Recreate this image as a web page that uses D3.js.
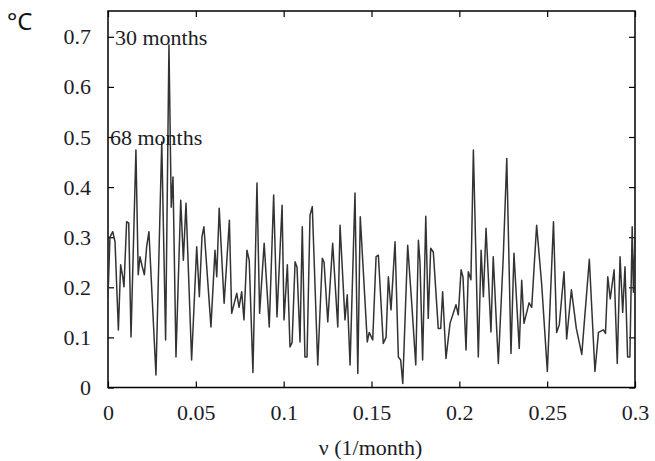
<!DOCTYPE html>
<html>
<head>
<meta charset="utf-8">
<script src="https://cdn.jsdelivr.net/npm/d3@7"></script>
<style>
    body { margin: 0; background: #fff; }
    svg { display: block; }
    .tick text { font-family: "Liberation Serif", "Times New Roman", serif; font-size: 22px; fill: #1c1c28; }
    .domain { display: none; }
    .tick line { stroke: #000; stroke-width: 1.2; }
</style>
</head>
<body>
<div id="chart"></div>
<script>
// frequency (1/month)
var nu = [
    0.0000, 0.0011, 0.0027, 0.0040, 0.0059, 0.0072, 0.0084, 0.0091, 0.0106, 0.0118,
    0.0131, 0.0159, 0.0172, 0.0182, 0.0195, 0.0207, 0.0220, 0.0233, 0.0273, 0.0306,
    0.0328, 0.0347, 0.0360, 0.0370, 0.0387, 0.0414, 0.0429, 0.0444, 0.0476, 0.0505,
    0.0520, 0.0535, 0.0546, 0.0586, 0.0609, 0.0619, 0.0633, 0.0661, 0.0691, 0.0704,
    0.0733, 0.0746, 0.0761, 0.0774, 0.0791, 0.0804, 0.0825, 0.0848, 0.0863, 0.0889,
    0.0918, 0.0943, 0.0962, 0.0991, 0.1002, 0.1021, 0.1036, 0.1048, 0.1065, 0.1076,
    0.1093, 0.1106, 0.1121, 0.1133, 0.1150, 0.1163, 0.1194, 0.1220, 0.1230, 0.1251,
    0.1279, 0.1308, 0.1321, 0.1349, 0.1362, 0.1378, 0.1406, 0.1422, 0.1436, 0.1476,
    0.1487, 0.1507, 0.1526, 0.1539, 0.1567, 0.1583, 0.1596, 0.1611, 0.1634, 0.1653,
    0.1666, 0.1678, 0.1706, 0.1729, 0.1752, 0.1767, 0.1776, 0.1791, 0.1809, 0.1823,
    0.1837, 0.1852, 0.1880, 0.1894, 0.1905, 0.1924, 0.1947, 0.1981, 0.1994, 0.2010,
    0.2021, 0.2038, 0.2051, 0.2066, 0.2080, 0.2108, 0.2124, 0.2137, 0.2152, 0.2180,
    0.2193, 0.2222, 0.2250, 0.2270, 0.2294, 0.2311, 0.2341, 0.2355, 0.2368, 0.2397,
    0.2412, 0.2440, 0.2469, 0.2501, 0.2536, 0.2554, 0.2569, 0.2596, 0.2611, 0.2638,
    0.2666, 0.2697, 0.2740, 0.2772, 0.2792, 0.2820, 0.2832, 0.2845, 0.2859, 0.2881,
    0.2899, 0.2915, 0.2930, 0.2943, 0.2958, 0.2971, 0.2984, 0.2991, 0.3000
];

// amplitude (°C)
var amp = [
    0.180, 0.300, 0.311, 0.291, 0.115, 0.245, 0.221, 0.201, 0.331, 0.328,
    0.101, 0.474, 0.225, 0.261, 0.241, 0.225, 0.281, 0.311, 0.025, 0.490,
    0.095, 0.684, 0.360, 0.420, 0.061, 0.374, 0.254, 0.368, 0.055, 0.281,
    0.181, 0.301, 0.321, 0.121, 0.274, 0.221, 0.358, 0.168, 0.334, 0.148,
    0.188, 0.160, 0.191, 0.135, 0.274, 0.254, 0.030, 0.408, 0.148, 0.288,
    0.121, 0.384, 0.141, 0.364, 0.135, 0.245, 0.081, 0.090, 0.251, 0.240,
    0.091, 0.321, 0.061, 0.061, 0.344, 0.361, 0.045, 0.258, 0.250, 0.131,
    0.288, 0.121, 0.324, 0.135, 0.185, 0.045, 0.388, 0.028, 0.341, 0.091,
    0.110, 0.095, 0.261, 0.264, 0.088, 0.100, 0.221, 0.155, 0.291, 0.061,
    0.055, 0.008, 0.284, 0.168, 0.045, 0.294, 0.250, 0.055, 0.342, 0.138,
    0.278, 0.270, 0.118, 0.118, 0.191, 0.058, 0.128, 0.165, 0.145, 0.235,
    0.220, 0.075, 0.231, 0.215, 0.474, 0.061, 0.274, 0.181, 0.318, 0.111,
    0.261, 0.048, 0.260, 0.457, 0.068, 0.268, 0.078, 0.214, 0.128, 0.169,
    0.160, 0.324, 0.205, 0.032, 0.331, 0.110, 0.125, 0.231, 0.097, 0.195,
    0.118, 0.066, 0.256, 0.032, 0.110, 0.115, 0.108, 0.221, 0.177, 0.235,
    0.048, 0.261, 0.150, 0.241, 0.061, 0.061, 0.321, 0.190, 0.300
];

var xTicks = [0, 0.05, 0.1, 0.15, 0.2, 0.25, 0.3];
var yTicks = [0, 0.1, 0.2, 0.3, 0.4, 0.5, 0.6, 0.7];

var peakLabels = [
    { text: '30 months', value: 0.7 },
    { text: '68 months', value: 0.5 }
];

var svgWidth = 655, svgHeight = 461;
var margin = { top: 11, right: 20, bottom: 73.5, left: 108 };
var chartWidth = svgWidth - margin.left - margin.right;
var chartHeight = svgHeight - margin.top - margin.bottom;

var svg = d3.select('#chart').append('svg')
    .attr('width', svgWidth)
    .attr('height', svgHeight);

var g = svg.append('g')
    .attr('transform', 'translate(' + [margin.left, margin.top] + ')');

var xScale = d3.scaleLinear().domain([0, 0.3]).range([0, chartWidth]);
var yScale = d3.scaleLinear().domain([0, 0.7515]).range([chartHeight, 0]);

var fmt = function (d) { return d === 0 ? '0' : String(+d.toFixed(2)); };

// axes with inward ticks, mirrored on top/right
g.append('g')
    .attr('transform', 'translate(0,' + chartHeight + ')')
    .call(d3.axisBottom(xScale).tickValues(xTicks).tickSize(-6).tickPadding(17).tickFormat(fmt));
g.append('g')
    .call(d3.axisTop(xScale).tickValues(xTicks).tickSize(-6).tickFormat(''));
g.append('g')
    .call(d3.axisLeft(yScale).tickValues(yTicks).tickSize(-6).tickPadding(17).tickFormat(fmt));
g.append('g')
    .attr('transform', 'translate(' + chartWidth + ',0)')
    .call(d3.axisRight(yScale).tickValues(yTicks).tickSize(-6).tickFormat(''));

// frame
g.append('rect')
    .attr('width', chartWidth)
    .attr('height', chartHeight)
    .attr('fill', 'none')
    .attr('stroke', '#000')
    .attr('stroke-width', 1.5);

// spectrum line
var line = d3.line()
    .x(function (d, i) { return xScale(nu[i]); })
    .y(function (d) { return yScale(d); });

g.append('path')
    .datum(amp)
    .attr('d', line)
    .attr('fill', 'none')
    .attr('stroke', '#333')
    .attr('stroke-width', 1.5)
    .attr('stroke-linejoin', 'round');

// peak labels
g.selectAll('.peak')
    .data(peakLabels)
    .enter().append('text')
    .attr('class', 'peak')
    .attr('x', function (d, i) { return i === 0 ? 7 : 2; })
    .attr('y', function (d) { return yScale(d.value) + 8; })
    .style('font-family', '"Liberation Serif", "Times New Roman", serif')
    .style('font-size', '22px')
    .style('fill', '#1c1c28')
    .text(function (d) { return d.text; });

// unit label
svg.append('text')
    .attr('x', 7)
    .attr('y', 30)
    .style('font-family', '"Noto Sans", "DejaVu Sans", sans-serif')
    .style('font-size', '24px')
    .style('fill', '#111')
    .text('°C');

// x axis title
svg.append('text')
    .attr('x', margin.left + chartWidth / 2 - 1)
    .attr('y', 455)
    .attr('text-anchor', 'middle')
    .style('font-family', '"Liberation Serif", "Times New Roman", serif')
    .style('font-size', '22px')
    .style('fill', '#1c1c28')
    .text('ν (1/month)');
</script>
</body>
</html>
